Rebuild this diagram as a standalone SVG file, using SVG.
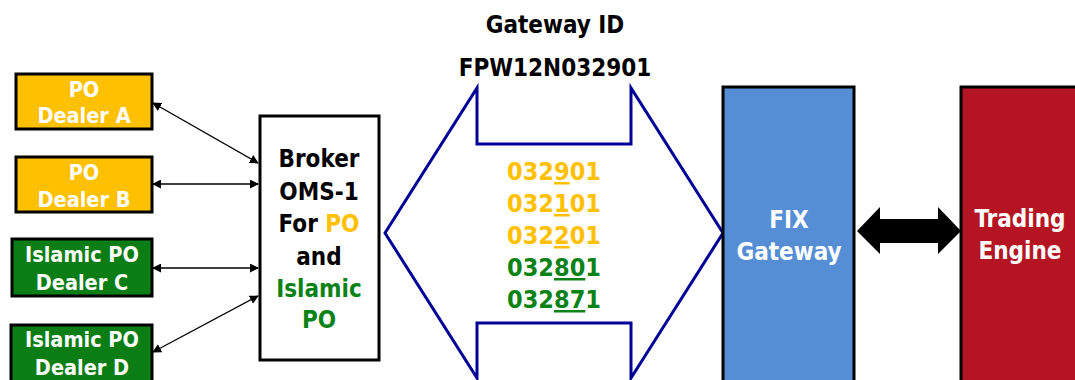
<svg xmlns="http://www.w3.org/2000/svg" width="1075" height="380" viewBox="0 0 1075 380">
<style>
text{font-family:"DejaVu Sans Condensed","DejaVu Sans",sans-serif;font-weight:bold;text-anchor:middle}
.dl{font-size:21.5px;fill:#fff}
.bx{stroke:#000;stroke-width:3}
.t{font-size:24px;fill:#000}
.n{font-size:25px}
.w{font-size:24px;fill:#fff}
.o{fill:#FFC000}
.g{fill:#0A8216}
.u{text-decoration:underline}
.c{stroke:#000;stroke-width:1.3;fill:none;marker-start:url(#ah);marker-end:url(#ah)}
</style>
<defs>
<marker id="ah" viewBox="0 0 10 10" refX="9" refY="5" markerWidth="9" markerHeight="9" markerUnits="userSpaceOnUse" orient="auto-start-reverse">
<path d="M0,0 L10,5 L0,10 z" fill="#000"/>
</marker>
</defs>
<rect width="1075" height="380" fill="#fff"/>
<g id="title">
<text class="t" x="555" y="33">Gateway ID</text>
<text class="t" x="555" y="76">FPW12N032901</text>
</g>
<g id="dealerA">
<rect class="bx" x="16" y="74" width="136" height="55" fill="#FFC000"/>
<text class="dl" x="84" y="97">PO</text>
<text class="dl" x="84" y="123">Dealer A</text>
</g>
<g id="dealerB">
<rect class="bx" x="16" y="157" width="136" height="55" fill="#FFC000"/>
<text class="dl" x="84" y="180">PO</text>
<text class="dl" x="84" y="207">Dealer B</text>
</g>
<g id="dealerC">
<rect class="bx" x="12" y="239" width="140" height="57" fill="#0A7D14"/>
<text class="dl" x="82" y="262">Islamic PO</text>
<text class="dl" x="82" y="290">Dealer C</text>
</g>
<g id="dealerD">
<rect class="bx" x="11" y="325" width="141" height="60" fill="#0A7D14"/>
<text class="dl" x="82" y="347">Islamic PO</text>
<text class="dl" x="82" y="375">Dealer D</text>
</g>
<g id="broker">
<rect class="bx" x="260" y="116" width="119" height="244" fill="#fff"/>
<text class="t" x="319" y="167">Broker</text>
<text class="t" x="319" y="200">OMS-1</text>
<text class="t" x="319" y="232">For <tspan class="o">PO</tspan></text>
<text class="t" x="319" y="265">and</text>
<text class="t g" x="319" y="297">Islamic</text>
<text class="t g" x="319" y="328">PO</text>
</g>
<g id="gateway-ids">
<path d="M477,88 L477,144 L631,144 L631,88 L723,233 L631,378 L631,323 L477,323 L477,378 L385,233 Z" fill="#fff" stroke="#000096" stroke-width="3" stroke-linejoin="miter"/>
<text class="t n o" x="554" y="180">032<tspan class="u">9</tspan>01</text>
<text class="t n o" x="554" y="212">032<tspan class="u">1</tspan>01</text>
<text class="t n o" x="554" y="244">032<tspan class="u">2</tspan>01</text>
<text class="t n g" x="554" y="276">032<tspan class="u">80</tspan>1</text>
<text class="t n g" x="554" y="308">032<tspan class="u">87</tspan>1</text>
</g>
<g id="fix">
<rect class="bx" x="723" y="87" width="131" height="300" fill="#558ED5"/>
<text class="w" x="789" y="228">FIX</text>
<text class="w" x="789" y="260">Gateway</text>
</g>
<g id="engine">
<rect class="bx" x="961" y="87" width="130" height="300" fill="#B51522"/>
<text class="w" x="1020" y="227">Trading</text>
<text class="w" x="1020" y="259">Engine</text>
</g>
<g id="connectors">
<line class="c" x1="153" y1="103" x2="258" y2="163"/>
<line class="c" x1="153" y1="184" x2="258" y2="184"/>
<line class="c" x1="153" y1="268" x2="258" y2="268"/>
<line class="c" x1="153" y1="352" x2="258" y2="296"/>
<path d="M857,231 L880,207 L880,219 L938,219 L938,207 L961,231 L938,254 L938,243 L880,243 L880,254 Z" fill="#000"/>
</g>
</svg>
